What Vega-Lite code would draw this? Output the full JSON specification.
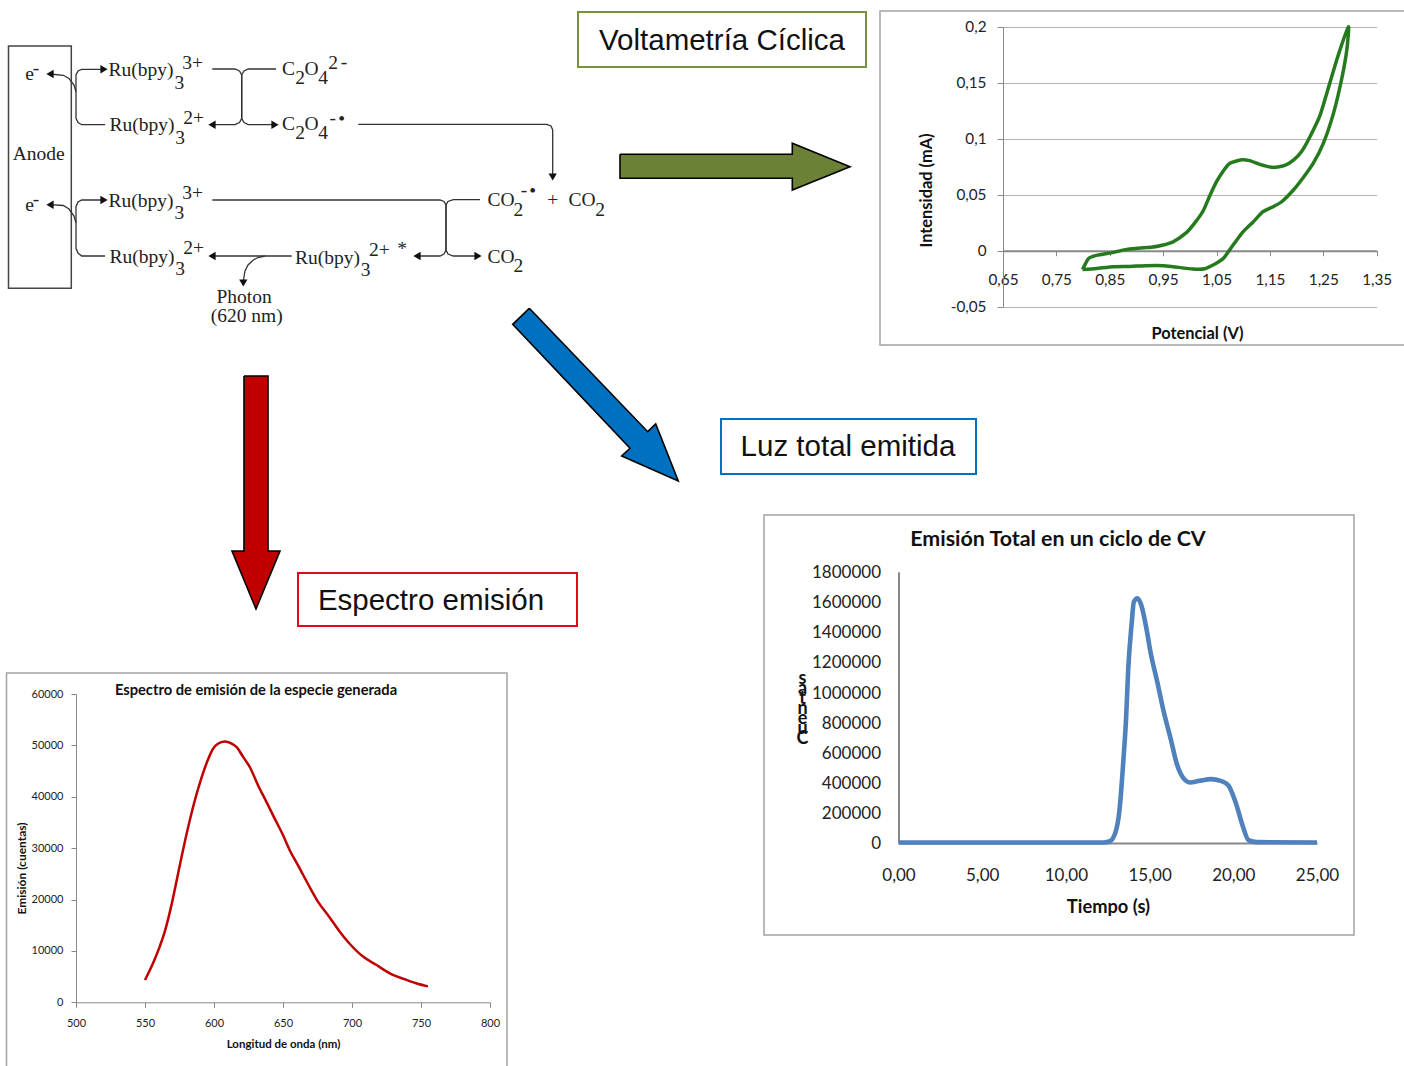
{
"$schema":"https://vega.github.io/schema/vega-lite/v6.json",
"width":1404,"height":1066,"padding":0,"autosize":{"type":"none"},
"background":"white","view":{"stroke":null},
"config":{"axis":{"labelFont":"Lato","titleFont":"Lato","titleFontWeight":"bold","titleColor":"#111","labelColor":"#222","domainColor":"#888","tickColor":"#888","grid":false,"labelOverlap":false,"labelFlush":false,"titleBaseline":"middle","titleAlign":"center","titleAnchor":"middle"}},
"datasets":{
"marcos":[{"x":880,"x2":1420,"y":11,"y2":345},{"x":764,"x2":1354,"y":515,"y2":935},{"x":6.5,"x2":507,"y":673,"y2":1080}],
"cajas":[{"serie":"v","x":578,"x2":866,"y":12,"y2":67},{"serie":"l","x":721,"x2":976,"y":419,"y2":474},{"serie":"e","x":298,"x2":577,"y":573,"y2":626}],
"rotulos":[{"t":"Voltametría Cíclica","x":722,"y":40.5},{"t":"Luz total emitida","x":848,"y":446.5},{"t":"Espectro emisión","x":431,"y":600.5}],
"flecha_v":[{"i":0,"x":620,"y":154.3},{"i":1,"x":792.3,"y":154.3},{"i":2,"x":792.3,"y":143.3},{"i":3,"x":850,"y":166.7},{"i":4,"x":792.3,"y":190},{"i":5,"x":792.3,"y":178.3},{"i":6,"x":620,"y":178.3},{"i":7,"x":620,"y":154.3}],
"flecha_l":[{"i":0,"x":529.3,"y":308.3},{"i":1,"x":647.7,"y":431.7},{"i":2,"x":655.7,"y":424},{"i":3,"x":678.3,"y":481},{"i":4,"x":621.7,"y":456},{"i":5,"x":630,"y":448.3},{"i":6,"x":512.7,"y":324.3},{"i":7,"x":529.3,"y":308.3}],
"flecha_e":[{"i":0,"x":244,"y":376},{"i":1,"x":268,"y":376},{"i":2,"x":268,"y":551},{"i":3,"x":280,"y":551},{"i":4,"x":256,"y":609},{"i":5,"x":232,"y":551},{"i":6,"x":244,"y":551},{"i":7,"x":244,"y":376}],
"trazos":[
{"id":"a1","i":0,"x":101,"y":69.3},{"id":"a1","i":1,"x":81.7,"y":69.3},{"id":"a1","i":2,"x":78,"y":71},{"id":"a1","i":3,"x":76,"y":75},{"id":"a1","i":4,"x":76,"y":118.3},{"id":"a1","i":5,"x":78,"y":122.5},{"id":"a1","i":6,"x":81.7,"y":124.7},{"id":"a1","i":7,"x":105,"y":124.7},
{"id":"e1","i":0,"x":76,"y":91.7},{"id":"e1","i":1,"x":74,"y":85},{"id":"e1","i":2,"x":69,"y":78.5},{"id":"e1","i":3,"x":63.3,"y":75.3},{"id":"e1","i":4,"x":50,"y":74},
{"id":"a2","i":0,"x":101,"y":200},{"id":"a2","i":1,"x":81.7,"y":200},{"id":"a2","i":2,"x":78,"y":202},{"id":"a2","i":3,"x":76,"y":206.7},{"id":"a2","i":4,"x":76,"y":248.3},{"id":"a2","i":5,"x":78,"y":253},{"id":"a2","i":6,"x":81.7,"y":256},{"id":"a2","i":7,"x":105,"y":256},
{"id":"e2","i":0,"x":76,"y":222.7},{"id":"e2","i":1,"x":74,"y":216},{"id":"e2","i":2,"x":69,"y":209},{"id":"e2","i":3,"x":63.3,"y":205.5},{"id":"e2","i":4,"x":50,"y":204.7},
{"id":"b1","i":0,"x":212.3,"y":69},{"id":"b1","i":1,"x":235,"y":69},{"id":"b1","i":2,"x":239.5,"y":71},{"id":"b1","i":3,"x":241.7,"y":75},{"id":"b1","i":4,"x":241.7,"y":118.3},{"id":"b1","i":5,"x":239.5,"y":122.5},{"id":"b1","i":6,"x":235,"y":124.7},{"id":"b1","i":7,"x":213,"y":124.7},
{"id":"b2","i":0,"x":276,"y":69},{"id":"b2","i":1,"x":248.3,"y":69},{"id":"b2","i":2,"x":244,"y":71},{"id":"b2","i":3,"x":241.7,"y":75},{"id":"b2","i":4,"x":241.7,"y":118.3},{"id":"b2","i":5,"x":244,"y":122.5},{"id":"b2","i":6,"x":248.3,"y":124.7},{"id":"b2","i":7,"x":273.3,"y":124.7},
{"id":"c1","i":0,"x":358.3,"y":124.3},{"id":"c1","i":1,"x":546.7,"y":124.3},{"id":"c1","i":2,"x":551,"y":126},{"id":"c1","i":3,"x":552.7,"y":130},{"id":"c1","i":4,"x":552.7,"y":175},
{"id":"d1","i":0,"x":212.3,"y":200},{"id":"d1","i":1,"x":440,"y":200},{"id":"d1","i":2,"x":444,"y":201.5},{"id":"d1","i":3,"x":446,"y":205},{"id":"d1","i":4,"x":446,"y":250},{"id":"d1","i":5,"x":444,"y":254},{"id":"d1","i":6,"x":440,"y":256},{"id":"d1","i":7,"x":418,"y":256},
{"id":"d2","i":0,"x":480,"y":199.7},{"id":"d2","i":1,"x":453.3,"y":199.7},{"id":"d2","i":2,"x":448,"y":201.5},{"id":"d2","i":3,"x":446,"y":205},{"id":"d2","i":4,"x":446,"y":250},{"id":"d2","i":5,"x":448,"y":254},{"id":"d2","i":6,"x":453.3,"y":256},{"id":"d2","i":7,"x":476.7,"y":256},
{"id":"r1","i":0,"x":291.7,"y":256},{"id":"r1","i":1,"x":213,"y":256},
{"id":"p1","i":0,"x":265,"y":256},{"id":"p1","i":1,"x":258,"y":257.5},{"id":"p1","i":2,"x":253.3,"y":260},{"id":"p1","i":3,"x":248,"y":265},{"id":"p1","i":4,"x":245,"y":271},{"id":"p1","i":5,"x":243.5,"y":280}
],
"puntas":[
{"dir":"triangle-right","x":104,"y":69.3},{"dir":"triangle-left","x":50,"y":74},{"dir":"triangle-right","x":104,"y":200},{"dir":"triangle-left","x":50,"y":204.7},
{"dir":"triangle-left","x":212,"y":124.7},{"dir":"triangle-right","x":275,"y":124.7},{"dir":"triangle-down","x":552.7,"y":177},
{"dir":"triangle-left","x":417,"y":256},{"dir":"triangle-right","x":478,"y":256},{"dir":"triangle-left","x":212,"y":256},{"dir":"triangle-down","x":243.3,"y":283}
],
"anodo":[{"x":8.5,"x2":71.3,"y":46,"y2":288.3}],
"formulas":[
{"t":"Anode","x":38.7,"y":154},{"t":"e","x":29.5,"y":74},{"t":"-","x":36,"y":68},{"t":"e","x":29.5,"y":204.5},{"t":"-","x":36,"y":199},
{"t":"Ru(bpy)","x":141,"y":69.5},{"t":"3","x":179.3,"y":82.7},{"t":"3+","x":192.7,"y":62.7},
{"t":"Ru(bpy)","x":142,"y":124.8},{"t":"3","x":180,"y":137.7},{"t":"2+","x":193.7,"y":118.3},
{"t":"Ru(bpy)","x":141,"y":200.5},{"t":"3","x":179.3,"y":213.3},{"t":"3+","x":192.7,"y":193.3},
{"t":"Ru(bpy)","x":142,"y":256.5},{"t":"3","x":180,"y":268.7},{"t":"2+","x":193.7,"y":248.3},
{"t":"Ru(bpy)","x":327.5,"y":257.5},{"t":"3","x":365.7,"y":270},{"t":"2+","x":379.3,"y":250},{"t":"*","x":402,"y":249},
{"t":"Photon","x":244,"y":296.7},{"t":"(620 nm)","x":246.7,"y":316},
{"t":"C","x":288.5,"y":69},{"t":"2","x":300,"y":78.3},{"t":"O","x":311.5,"y":69},{"t":"4","x":323,"y":78.3},{"t":"2","x":333,"y":63.3},{"t":"-","x":344,"y":62},
{"t":"C","x":288.5,"y":124.3},{"t":"2","x":300,"y":133.3},{"t":"O","x":311.5,"y":124.3},{"t":"4","x":323,"y":133.3},{"t":"-","x":332.7,"y":118},{"t":"•","x":341.7,"y":119},
{"t":"CO","x":501,"y":200},{"t":"2","x":518.3,"y":210},{"t":"-","x":524,"y":190},{"t":"•","x":532.7,"y":190.5},{"t":"+","x":552.7,"y":200},{"t":"CO","x":582,"y":200},{"t":"2","x":600,"y":210},
{"t":"CO","x":501,"y":256.7},{"t":"2","x":518.3,"y":266}
],
"titulos":[{"t":"Emisión Total en un ciclo de CV","x":1058,"y":540}],
"titulos2":[{"t":"Espectro de emisión de la especie generada","x":256,"y":691}],
"cv":[
{"i":0,"v":0.799,"a":-0.0167},{"i":1,"v":0.81,"a":-0.0071},{"i":2,"v":0.825,"a":-0.0042},{"i":3,"v":0.857,"a":-0.0015},{"i":4,"v":0.882,"a":0.0012},{"i":5,"v":0.913,"a":0.0027},{"i":6,"v":0.928,"a":0.003},{"i":7,"v":0.95,"a":0.0051},{"i":8,"v":0.969,"a":0.008},{"i":9,"v":0.994,"a":0.0164},{"i":10,"v":1.01,"a":0.0253},{"i":11,"v":1.025,"a":0.0357},{"i":12,"v":1.038,"a":0.0497},{"i":13,"v":1.05,"a":0.0616},{"i":14,"v":1.063,"a":0.0714},{"i":15,"v":1.075,"a":0.078},{"i":16,"v":1.097,"a":0.0812},{"i":17,"v":1.112,"a":0.0804},{"i":18,"v":1.131,"a":0.0771},{"i":19,"v":1.156,"a":0.0744},{"i":20,"v":1.178,"a":0.0762},{"i":21,"v":1.194,"a":0.0809},{"i":22,"v":1.209,"a":0.0884},{"i":23,"v":1.225,"a":0.1018},{"i":24,"v":1.244,"a":0.1211},{"i":25,"v":1.262,"a":0.1494},{"i":26,"v":1.278,"a":0.1747},{"i":27,"v":1.297,"a":0.2},
{"i":28,"v":1.294,"a":0.1792},{"i":29,"v":1.284,"a":0.1524},{"i":30,"v":1.269,"a":0.1226},{"i":31,"v":1.25,"a":0.0958},{"i":32,"v":1.231,"a":0.078},{"i":33,"v":1.209,"a":0.0631},{"i":34,"v":1.194,"a":0.0542},{"i":35,"v":1.172,"a":0.0437},{"i":36,"v":1.156,"a":0.0393},{"i":37,"v":1.137,"a":0.0348},{"i":38,"v":1.119,"a":0.0259},{"i":39,"v":1.1,"a":0.017},{"i":40,"v":1.081,"a":0.0051},{"i":41,"v":1.063,"a":-0.0068},{"i":42,"v":1.047,"a":-0.0119},{"i":43,"v":1.028,"a":-0.0161},{"i":44,"v":1.006,"a":-0.0164},{"i":45,"v":0.969,"a":-0.0143},{"i":46,"v":0.95,"a":-0.0134},{"i":47,"v":0.919,"a":-0.0134},{"i":48,"v":0.888,"a":-0.014},{"i":49,"v":0.857,"a":-0.0143},{"i":50,"v":0.825,"a":-0.0158},{"i":51,"v":0.799,"a":-0.0167}
],
"emision":[
{"t":0,"c":0},{"t":12.28,"c":0},{"t":12.63,"c":8900},{"t":12.97,"c":71000},{"t":13.2,"c":215000},{"t":13.42,"c":525000},{"t":13.6,"c":836000},{"t":13.72,"c":1146000},{"t":13.93,"c":1457000},{"t":14.06,"c":1600000},{"t":14.27,"c":1623000},{"t":14.5,"c":1578000},{"t":14.79,"c":1434000},{"t":15.07,"c":1257000},{"t":15.48,"c":1057000},{"t":15.82,"c":880000},{"t":16.28,"c":680000},{"t":16.62,"c":525000},{"t":16.96,"c":437000},{"t":17.42,"c":399000},{"t":17.99,"c":410000},{"t":18.67,"c":421000},{"t":19.25,"c":410000},{"t":19.7,"c":381000},{"t":20.16,"c":259000},{"t":20.55,"c":115000},{"t":20.91,"c":15500},{"t":21.41,"c":2200},{"t":25,"c":0}
],
"espectro":[
{"l":550,"e":4350},{"l":555.8,"e":7600},{"l":560.6,"e":10800},{"l":564.7,"e":14100},{"l":569.5,"e":19300},{"l":575,"e":26400},{"l":580,"e":32600},{"l":585.5,"e":38700},{"l":590.8,"e":43600},{"l":595.6,"e":47200},{"l":599.2,"e":49300},{"l":602.8,"e":50300},{"l":607.7,"e":50750},{"l":612.5,"e":50400},{"l":616.6,"e":49600},{"l":621,"e":47800},{"l":626.3,"e":45600},{"l":631.8,"e":42300},{"l":637.8,"e":39100},{"l":643.9,"e":35800},{"l":649.9,"e":32600},{"l":654.7,"e":29700},{"l":660.8,"e":26700},{"l":670.4,"e":21900},{"l":675.3,"e":19600},{"l":682.5,"e":17000},{"l":691,"e":13800},{"l":698,"e":11500},{"l":708,"e":8900},{"l":717.5,"e":7300},{"l":728.4,"e":5500},{"l":738,"e":4500},{"l":746.5,"e":3700},{"l":755,"e":3100}
]
},
"layer":[
{
"encoding":{
"x":{"field":"x","type":"quantitative","axis":null,"scale":{"domain":[0,1404],"range":[0,1404]}},
"y":{"field":"y","type":"quantitative","axis":null,"scale":{"domain":[0,1066],"range":[0,1066]}}
},
"layer":[
{"data":{"name":"marcos"},"mark":{"type":"rect","fill":"transparent","stroke":"#a3a3a3","strokeWidth":1.5},"encoding":{"x2":{"field":"x2"},"y2":{"field":"y2"}}},
{"data":{"name":"cajas"},"mark":{"type":"rect","fill":"transparent","strokeWidth":2},"encoding":{"x2":{"field":"x2"},"y2":{"field":"y2"},"stroke":{"field":"serie","type":"nominal","legend":null,"scale":{"domain":["v","l","e"],"range":["#76923c","#0070c0","#dd0a1a"]}}}},
{"data":{"name":"rotulos"},"mark":{"type":"text","font":"Liberation Sans","fontSize":29.5,"color":"#111","align":"center","baseline":"middle"},"encoding":{"text":{"field":"t"}}},
{"data":{"name":"flecha_v"},"mark":{"type":"line","fill":"#6b8136","stroke":"#000","strokeWidth":1.6},"encoding":{"order":{"field":"i"}}},
{"data":{"name":"flecha_l"},"mark":{"type":"line","fill":"#0070c0","stroke":"#000","strokeWidth":1.6},"encoding":{"order":{"field":"i"}}},
{"data":{"name":"flecha_e"},"mark":{"type":"line","fill":"#c00000","stroke":"#000","strokeWidth":1.6},"encoding":{"order":{"field":"i"}}},
{"data":{"name":"anodo"},"mark":{"type":"rect","fill":"transparent","stroke":"#444","strokeWidth":1.5},"encoding":{"x2":{"field":"x2"},"y2":{"field":"y2"}}},
{"data":{"name":"trazos"},"mark":{"type":"line","stroke":"#333","strokeWidth":1.3},"encoding":{"detail":{"field":"id"},"order":{"field":"i"}}},
{"data":{"name":"puntas"},"mark":{"type":"point","filled":true,"size":70,"color":"#111","opacity":1},"encoding":{"shape":{"field":"dir","type":"nominal","scale":null}}},
{"data":{"name":"formulas"},"mark":{"type":"text","font":"Liberation Serif","fontSize":19.5,"color":"#222","align":"center","baseline":"middle"},"encoding":{"text":{"field":"t"}}},
{"data":{"name":"titulos"},"mark":{"type":"text","font":"Lato","fontWeight":"bold","fontSize":21.4,"color":"#111","align":"center","baseline":"middle"},"encoding":{"text":{"field":"t"}}},
{"data":{"name":"titulos2"},"mark":{"type":"text","font":"Lato","fontWeight":"bold","fontSize":14.7,"color":"#111","align":"center","baseline":"middle"},"encoding":{"text":{"field":"t"}}}
]
},
{
"data":{"name":"cv"},
"mark":{"type":"line","stroke":"#267a1e","strokeWidth":3.5,"clip":false,"interpolate":"cardinal","tension":0.4},
"encoding":{
"order":{"field":"i"},
"x":{"field":"v","type":"quantitative","scale":{"domain":[0.65,1.35],"range":[1003,1376.7],"nice":false,"zero":false},
"axis":{"orient":"bottom","offset":-815.3,"values":[0.65,0.75,0.85,0.95,1.05,1.15,1.25,1.35],"labelExpr":"replace(format(datum.value,'.2f'),'.',',')","labelFontSize":15.3,"labelPadding":17,"tickSize":5,"domainWidth":2,"title":"Potencial (V)","titleFontSize":16.4,"titleX":1197,"titleY":83}},
"y":{"field":"a","type":"quantitative","scale":{"domain":[-0.05,0.2],"range":[306.7,26.7],"nice":false,"zero":false},
"axis":{"orient":"left","offset":-1003,"values":[-0.05,0,0.05,0.1,0.15,0.2],"labelExpr":"replace(''+datum.value,'.',',')","labelFontSize":15.3,"labelPadding":11,"tickSize":6,"grid":true,"gridColor":"#b3b3b3","title":"Intensidad (mA)","titleFontSize":16.4,"titleAngle":-90,"titleX":-76.3,"titleY":190}}
}
},
{
"data":{"name":"emision"},
"mark":{"type":"line","stroke":"#4f81bd","strokeWidth":4.6,"clip":false,"interpolate":"monotone"},
"encoding":{
"x":{"field":"t","type":"quantitative","scale":{"domain":[0,25],"range":[898.5,1317],"nice":false,"zero":false},
"axis":{"orient":"bottom","offset":-223,"values":[0,5,10,15,20,25],"labelExpr":"replace(format(datum.value,'.2f'),'.',',')","labelFontSize":17,"labelPadding":24,"tickSize":0,"domainWidth":2,"title":"Tiempo (s)","titleFontSize":18.3,"titleX":1108,"titleY":64}},
"y":{"field":"c","type":"quantitative","scale":{"domain":[0,1800000],"range":[842.5,571.7],"nice":false,"zero":false},
"axis":{"orient":"left","offset":-898.5,"values":[0,200000,400000,600000,800000,1000000,1200000,1400000,1600000,1800000],"format":"d","labelFontSize":17,"labelPadding":18,"labelOffset":1,"tickSize":0,"domainWidth":2,"title":["s","a","t","n","e","u","C"],"titleFontSize":18,"titleLineHeight":10,"titleAngle":0,"titleBaseline":"top","titleX":-96.5,"titleY":669}}
}
},
{
"data":{"name":"espectro"},
"mark":{"type":"line","stroke":"#c00000","strokeWidth":2.5,"clip":false,"interpolate":"monotone"},
"encoding":{
"x":{"field":"l","type":"quantitative","scale":{"domain":[500,800],"range":[76,490],"nice":false,"zero":false},
"axis":{"orient":"bottom","offset":-63.7,"values":[500,550,600,650,700,750,800],"format":"d","labelFontSize":11,"labelPadding":10,"tickSize":5,"title":"Longitud de onda (nm)","titleFontSize":11.5,"titleX":283,"titleY":41.7}},
"y":{"field":"e","type":"quantitative","scale":{"domain":[0,60000],"range":[1002.3,694],"nice":false,"zero":false},
"axis":{"orient":"left","offset":-76,"values":[0,10000,20000,30000,40000,50000,60000],"format":"d","labelFontSize":11,"labelPadding":8,"tickSize":5,"title":"Emisión (cuentas)","titleFontSize":12,"titleAngle":-90,"titleX":-55,"titleY":868}}
}
}
],
"resolve":{"scale":{"x":"independent","y":"independent"},"axis":{"x":"independent","y":"independent"}}
}
